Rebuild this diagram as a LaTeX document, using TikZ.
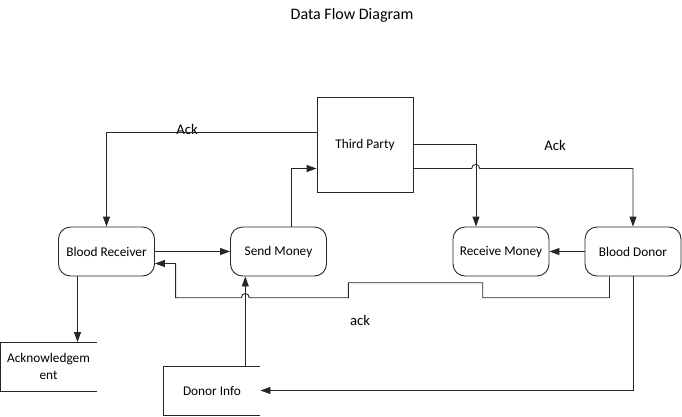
\documentclass[tikz,border=0pt]{standalone}
\usepackage{fontspec}
\setmainfont{Carlito}
\usetikzlibrary{arrows.meta}
\begin{document}
\begin{tikzpicture}[x=1pt,y=-1pt,
  line width=0.9pt, draw=black!85,
  arr/.style={draw=black!85,-{Triangle[length=10pt,width=7pt]}},
  proc/.style={draw=black!85,rounded corners=12pt,minimum width=96pt,minimum height=49pt,inner sep=0pt,font=\fontsize{13.3}{16}\selectfont},
  ent/.style={draw=black!85,minimum width=96pt,minimum height=95pt,inner sep=0pt,font=\fontsize{13.3}{16}\selectfont},
  store/.style={minimum width=96pt,minimum height=48pt,inner sep=0pt,align=center,font=\fontsize{13.3}{16.5}\selectfont},
  lbl/.style={inner sep=0pt,font=\fontsize{14.7}{17}\selectfont},
  ttl/.style={inner sep=0pt,font=\fontsize{16}{19}\selectfont}]
\useasboundingbox (0,0) rectangle (682,416);
\node[ttl] (title) at (352,15) {Data Flow Diagram};
\node[ent] (tp) at (365,144.5) {Third Party};
\node[proc] (br) at (106.5,251.5) {Blood Receiver};
\node[proc] (sm) at (278.5,251.5) {Send Money};
\node[proc] (rm) at (501,251.5) {Receive Money};
\node[proc] (bd) at (633,251.5) {Blood Donor};
\node[store] (di) at (212,390.5) {Donor Info};
\node[store] (ak) at (48.5,366.5) {Acknowledgem\\ent};
\draw (di.north east) -- (di.north west) -- (di.south west) -- (di.south east);
\draw (ak.north east) -- (ak.north west) -- (ak.south west) -- (ak.south east);
\node[lbl] (l1) at (187,129) {Ack};
\node[lbl] (l2) at (555,145) {Ack};
\node[lbl] (l3) at (360,320) {ack};
% connectors
\draw[arr] ([yshift=12pt]tp.west) -| (br.north);
\draw[arr] ([xshift=13pt]sm.north) |- ([yshift=-24pt]tp.west);
\draw[arr] (tp.east) -| ([xshift=-25pt]rm.north);
\coordinate (h1a) at (471.7,168.5);
\coordinate (h1b) at (479.7,168.5);
\draw[arr] ([yshift=-24pt]tp.east) -- (h1a) .. controls (471.7,163) and (479.7,163) .. (h1b) -| (bd.north);
\draw[arr] (bd.west) -- (rm.east);
\draw[arr] (br.east) -- (sm.west);
\coordinate (f1) at (482.7,297.7);
\coordinate (f2) at (348.3,282.7);
\coordinate (h2a) at (249.3,297.7);
\coordinate (h2b) at (241.3,297.7);
\draw[arr] ([xshift=-23.5pt]bd.south) |- (f1) |- (f2) |- (h2a) .. controls (249.3,292.2) and (241.3,292.2) .. (h2b) -| ([xshift=20.7pt,yshift=-12pt]br.east) -- ([yshift=-12pt]br.east);
\draw[arr] (bd.south) |- (di.east);
\draw[arr] ([xshift=33.3pt]di.north) -- ([xshift=-33.2pt]sm.south);
\draw[arr] ([xshift=-29pt]br.south) -- ([xshift=29pt]ak.north);
\end{tikzpicture}
\end{document}
